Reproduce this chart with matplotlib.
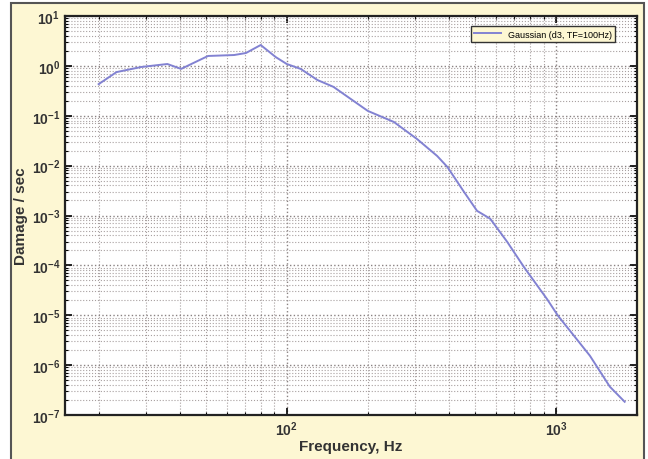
import matplotlib
matplotlib.use('Agg')
import numpy as np
import matplotlib.pyplot as plt
from matplotlib.patches import Rectangle
from matplotlib.ticker import LogLocator, NullFormatter

# values
freq = [20, 23.3, 28.8, 36, 40.5, 51, 63.7, 70.5, 80, 91, 100, 112.6, 130, 149,
        200, 250, 305, 362, 395, 453, 509, 570, 659, 755, 802, 927, 1017,
        1336, 1585, 1800]
damage = [0.43, 0.75, 0.95, 1.09, 0.87, 1.58, 1.65, 1.81, 2.62, 1.5, 1.09, 0.87,
          0.52, 0.38, 0.125, 0.075, 0.034, 0.0156, 0.0094, 0.0031, 0.00124,
          0.00086, 2.96e-4, 9.8e-5, 6.2e-5, 2.1e-5, 9.8e-6, 1.55e-6, 3.7e-7,
          1.84e-7]
series_name = 'Gaussian (d3, TF=100Hz)'

plt.rcParams['font.family'] = ['Liberation Sans', 'DejaVu Sans']
plt.rcParams['mathtext.default'] = 'regular'

bg = '#fdf7d3'
fig = plt.figure(figsize=(6.48, 4.6), dpi=100, facecolor='white')
fig.patches.append(Rectangle((11 / 648, -0.02), 633 / 648, 1.02 - 4 / 460,
                             transform=fig.transFigure, facecolor=bg,
                             edgecolor='#555555', linewidth=1.5, zorder=-10))

ax = fig.add_axes([65 / 648, 44 / 460, 572 / 648, 399 / 460])
ax.set_facecolor('white')
ax.loglog(freq, damage, color='#8282d2', linewidth=1.4, label=series_name)

ax.set_xlim(15, 2000)
ax.set_ylim(1e-7, 10)
ax.yaxis.set_major_locator(LogLocator(base=10, numticks=20))
ax.yaxis.set_minor_locator(LogLocator(base=10, subs=np.arange(2, 10), numticks=20))
ax.yaxis.set_minor_formatter(NullFormatter())
ax.xaxis.set_minor_formatter(NullFormatter())

ax.grid(which='major', color='#8a8282', linestyle=':', linewidth=1.0)
ax.grid(which='minor', color='#a8a0a0', linestyle=':', linewidth=0.8)
ax.tick_params(which='both', direction='in', top=True, right=True)
ax.tick_params(which='major', length=5, width=1.2, labelsize=10,
               labelcolor='#333333')
ax.tick_params(which='minor', length=2.5, width=0.8)
for lab in ax.get_xticklabels() + ax.get_yticklabels():
    lab.set_fontweight('bold')
for s in ax.spines.values():
    s.set_linewidth(1.6)
    s.set_color('#222222')

ax.set_xlabel('Frequency, Hz', fontsize=11, fontweight='bold', color='#333333')
ax.set_ylabel('Damage / sec', fontsize=11, fontweight='bold', color='#333333')
ax.xaxis.set_label_coords(0.5, -0.078)
ax.yaxis.set_label_coords(-0.077, 0.5)
ax.xaxis.label.set_va('center')
ax.yaxis.label.set_va('center')

leg = ax.legend(loc='upper right', fontsize=6.5, fancybox=False,
                handlelength=3, borderpad=0.35, framealpha=1,
                bbox_to_anchor=(0.97, 0.985))
leg.get_frame().set_facecolor(bg)
leg.get_frame().set_edgecolor('#333333')

fig.savefig('out.png', dpi=100, facecolor=fig.get_facecolor())
